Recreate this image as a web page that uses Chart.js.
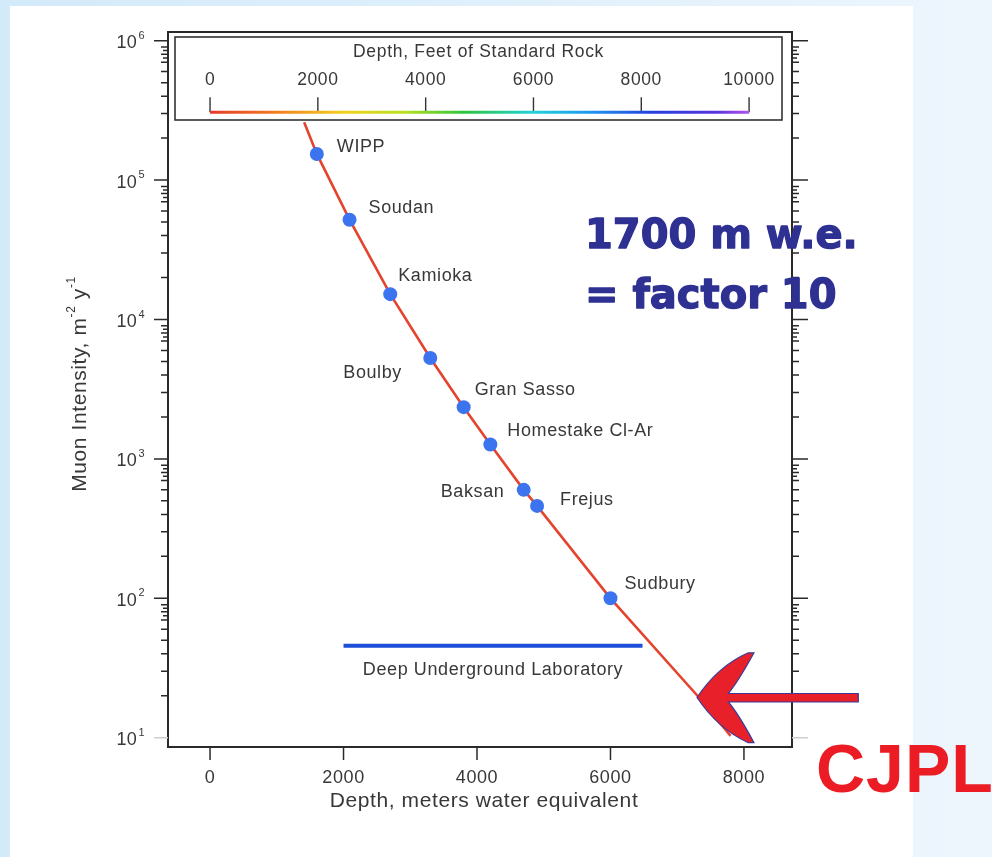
<!DOCTYPE html>
<html>
<head>
<meta charset="utf-8">
<script src="https://cdn.jsdelivr.net/npm/chart.js@4.4.1/dist/chart.umd.min.js"></script>
<style>
  html, body { margin: 0; padding: 0; }
  body {
    width: 992px; height: 857px; overflow: hidden; position: relative;
    background: linear-gradient(90deg, #d3eafa 0%, #e2f1fc 60%, #eef6fd 100%);
  }
  #panel { position: absolute; left: 10px; top: 6px; width: 903px; height: 851px; background: #fff; }
  #wrap { position: absolute; left: 0; top: 0; width: 992px; height: 857px; }
</style>
</head>
<body>
<div id="panel"></div>
<div id="wrap"><canvas id="chart" width="992" height="857"></canvas></div>
<script>
// --- datos ---
const sites = ['WIPP', 'Soudan', 'Kamioka', 'Boulby', 'Gran Sasso', 'Homestake Cl-Ar', 'Baksan', 'Frejus', 'Sudbury'];
const siteDepth = [1600, 2090, 2700, 3300, 3800, 4200, 4700, 4900, 6000];
const siteFlux = [1.54e5, 5.2e4, 1.52e4, 5.3e3, 2.35e3, 1.27e3, 600, 460, 100];

const curveDepth = [1410, 1600, 2090, 2700, 3300, 3800, 4200, 4700, 4900, 6000, 7320, 7800];
const curveFlux = [2.6e5, 1.54e5, 5.2e4, 1.52e4, 5.3e3, 2.35e3, 1.27e3, 600, 460, 100, 19.6, 10.3];

const labRange = [2000, 6480];
const labFlux = 45.7;

const depthTicks = [0, 2000, 4000, 6000, 8000];
const fluxDecades = [1, 2, 3, 4, 5, 6];
const minorSteps = [2, 3, 4, 5, 6, 7, 7.5, 8, 8.5, 9];
const feetTicks = [0, 2000, 4000, 6000, 8000, 10000];
const mwePerFoot = 0.8077;
const colorBarFlux = 3.06e5;

// desplazamiento de cada etiqueta respecto a su punto (px)
const labelOffset = {
    'WIPP': [20, -7], 'Soudan': [19, -12], 'Kamioka': [8, -18], 'Boulby': [-87, 15],
    'Gran Sasso': [11, -17], 'Homestake Cl-Ar': [17, -13], 'Baksan': [-83, 2],
    'Frejus': [23, -6], 'Sudbury': [14, -14]
};

const FONT = '"Liberation Sans", Arial, Helvetica, sans-serif';
const INK = '#383838';

function txt(ctx, s, x, y, size, align, spacing) {
    ctx.font = size + 'px ' + FONT;
    ctx.fillStyle = INK;
    ctx.textAlign = align || 'left';
    ctx.textBaseline = 'middle';
    ctx.letterSpacing = (spacing || 0) + 'px';
    ctx.fillText(s, x, y);
    ctx.letterSpacing = '0px';
}

function rainbow(chart) {
    const x = chart.scales.x;
    const g = chart.ctx.createLinearGradient(x.getPixelForValue(0), 0, x.getPixelForValue(10000 * mwePerFoot), 0);
    g.addColorStop(0, '#e5382a');
    g.addColorStop(0.12, '#f07e22');
    g.addColorStop(0.25, '#f2d21e');
    g.addColorStop(0.36, '#b8e11e');
    g.addColorStop(0.47, '#2fc43c');
    g.addColorStop(0.6, '#22d2da');
    g.addColorStop(0.7, '#1e9bef');
    g.addColorStop(0.82, '#2440de');
    g.addColorStop(0.94, '#5a34dc');
    g.addColorStop(1, '#b452ee');
    return g;
}

const decoPlugin = {
    id: 'deco',
    beforeDatasetsDraw(chart) {
        // recuadro de la escala en pies
        const ctx = chart.ctx;
        const x = chart.scales.x;
        ctx.save();
        ctx.fillStyle = '#fff';
        ctx.fillRect(175, 37, 607, 83);
        ctx.strokeStyle = '#333';
        ctx.lineWidth = 1.6;
        ctx.strokeRect(175, 37, 607, 83);
        txt(ctx, 'Depth, Feet of Standard Rock', 478.5, 52, 17.5, 'center', 0.7);
        const yBar = chart.scales.y.getPixelForValue(colorBarFlux);
        ctx.strokeStyle = '#333';
        ctx.lineWidth = 1.4;
        feetTicks.forEach(f => {
            const px = x.getPixelForValue(f * mwePerFoot);
            ctx.beginPath();
            ctx.moveTo(px, yBar - 15);
            ctx.lineTo(px, yBar);
            ctx.stroke();
            txt(ctx, String(f), px, 80, 17.5, 'center', 0.6);
        });
        ctx.restore();
    },
    afterDatasetsDraw(chart) {
        const ctx = chart.ctx;
        const x = chart.scales.x, y = chart.scales.y;
        const a = chart.chartArea;
        ctx.save();

        // marco
        ctx.strokeStyle = '#2a2a2a';
        ctx.lineWidth = 2;
        ctx.strokeRect(a.left, a.top, a.right - a.left, a.bottom - a.top);

        // marcas eje Y (izquierda y derecha)
        ctx.lineWidth = 1.5;
        fluxDecades.forEach(d => {
            const py = y.getPixelForValue(Math.pow(10, d));
            ctx.strokeStyle = d === 1 ? '#cfcfcf' : '#2a2a2a';
            ctx.beginPath();
            ctx.moveTo(a.left - 14, py); ctx.lineTo(a.left, py);
            ctx.moveTo(a.right, py); ctx.lineTo(a.right + 16, py);
            ctx.stroke();
            if (d < 6) {
                ctx.strokeStyle = '#2a2a2a';
                minorSteps.forEach(m => {
                    const pm = y.getPixelForValue(m * Math.pow(10, d));
                    const len = Number.isInteger(m) ? 7 : 5;
                    ctx.beginPath();
                    ctx.moveTo(a.left - len, pm); ctx.lineTo(a.left, pm);
                    ctx.moveTo(a.right, pm); ctx.lineTo(a.right + len, pm);
                    ctx.stroke();
                });
            }
            // etiqueta 10^d
            txt(ctx, '10', 137, py + 2.5, 18, 'right', 0.3);
            txt(ctx, String(d), 138.5, py - 5, 11, 'left');
        });

        // marcas eje X
        ctx.strokeStyle = '#2a2a2a';
        depthTicks.forEach(v => {
            const px = x.getPixelForValue(v);
            ctx.beginPath();
            ctx.moveTo(px, a.bottom); ctx.lineTo(px, a.bottom + 13);
            ctx.stroke();
            txt(ctx, String(v), px, 778, 18, 'center', 0.6);
        });

        // titulos de ejes
        txt(ctx, 'Depth, meters water equivalent', 484, 801, 21, 'center', 0.6);
        ctx.save();
        ctx.translate(80, 384);
        ctx.rotate(-Math.PI / 2);
        const parts = [['Muon Intensity, m', 21, 0], ['-2', 12, -8], [' y', 21, 0], ['-1', 12, -8]];
        let total = 0;
        parts.forEach(p => {
            ctx.font = p[1] + 'px ' + FONT;
            ctx.letterSpacing = '0.6px';
            total += ctx.measureText(p[0]).width;
        });
        let cx = -total / 2;
        parts.forEach(p => {
            txt(ctx, p[0], cx, p[2], p[1], 'left', 0.6);
            ctx.font = p[1] + 'px ' + FONT;
            ctx.letterSpacing = '0.6px';
            cx += ctx.measureText(p[0]).width;
            ctx.letterSpacing = '0px';
        });
        ctx.restore();

        // etiquetas de laboratorios
        sites.forEach((s, i) => {
            const px = x.getPixelForValue(siteDepth[i]);
            const py = y.getPixelForValue(siteFlux[i]);
            const off = labelOffset[s];
            txt(ctx, s, px + off[0], py + off[1], 18, 'left', 0.6);
        });
        const labMid = x.getPixelForValue((labRange[0] + labRange[1]) / 2);
        txt(ctx, 'Deep Underground Laboratory', labMid, y.getPixelForValue(labFlux) + 24, 18, 'center', 0.6);

        // anotaciones
        ctx.textAlign = 'left';
        ctx.textBaseline = 'alphabetic';
        ctx.font = 'bold 40px "DejaVu Sans", sans-serif';
        ctx.fillStyle = '#2e3192';
        ctx.strokeStyle = '#2e3192';
        ctx.lineWidth = 1.3;
        ctx.lineJoin = 'round';
        ['1700 m w.e.', '= factor 10'].forEach((s, i) => {
            ctx.fillText(s, 585, 248 + i * 60);
            ctx.strokeText(s, 585, 248 + i * 60);
        });

        // flecha CJPL
        ctx.beginPath();
        ctx.moveTo(697, 697.5);
        ctx.quadraticCurveTo(718, 666, 748.3, 652.8);
        ctx.lineTo(754, 652.8);
        ctx.quadraticCurveTo(738, 682, 728.3, 693.5);
        ctx.lineTo(858.3, 693.5);
        ctx.lineTo(858.3, 702);
        ctx.lineTo(728.3, 702);
        ctx.quadraticCurveTo(738, 713, 754, 742.7);
        ctx.lineTo(748.3, 742.7);
        ctx.quadraticCurveTo(718, 729, 697, 697.5);
        ctx.closePath();
        ctx.fillStyle = '#e8202a';
        ctx.fill();
        ctx.strokeStyle = '#3b3b9b';
        ctx.lineWidth = 1.2;
        ctx.lineJoin = 'miter';
        ctx.stroke();

        ctx.font = 'bold 68px "Liberation Sans", Arial, sans-serif';
        ctx.fillStyle = '#ec1c24';
        ctx.letterSpacing = '1px';
        ctx.fillText('CJPL', 816, 792);
        ctx.letterSpacing = '0px';

        ctx.restore();
    }
};

const ctx = document.getElementById('chart');
new Chart(ctx, {
    type: 'scatter',
    data: {
        datasets: [
            {
                label: 'Laboratorios',
                data: siteDepth.map((d, i) => ({ x: d, y: siteFlux[i] })),
                backgroundColor: '#3b74ee',
                borderWidth: 0,
                pointRadius: 7,
                order: 0
            },
            {
                label: 'Intensidad',
                data: curveDepth.map((d, i) => ({ x: d, y: curveFlux[i] })),
                showLine: true,
                borderColor: '#e4432d',
                borderWidth: 2.6,
                pointRadius: 0,
                order: 1
            },
            {
                label: 'Deep Underground Laboratory',
                data: labRange.map(d => ({ x: d, y: labFlux })),
                showLine: true,
                borderColor: '#1c4fd8',
                borderWidth: 4,
                pointRadius: 0,
                order: 2
            },
            {
                label: 'Pies',
                data: [0, 10000].map(f => ({ x: f * mwePerFoot, y: colorBarFlux })),
                showLine: true,
                borderColor: c => c.chart.chartArea ? rainbow(c.chart) : '#e5382a',
                borderWidth: 3,
                pointRadius: 0,
                order: 3
            }
        ]
    },
    options: {
        responsive: false,
        animation: false,
        devicePixelRatio: 1,
        layout: { padding: { left: 168, top: 32, right: 200, bottom: 110 } },
        plugins: { legend: { display: false }, tooltip: { enabled: false } },
        scales: {
            x: { type: 'linear', display: false, min: -630, max: 8720 },
            y: { type: 'logarithmic', display: false, min: 8.58, max: 1.154e6 }
        }
    },
    plugins: [decoPlugin]
});
</script>
</body>
</html>
